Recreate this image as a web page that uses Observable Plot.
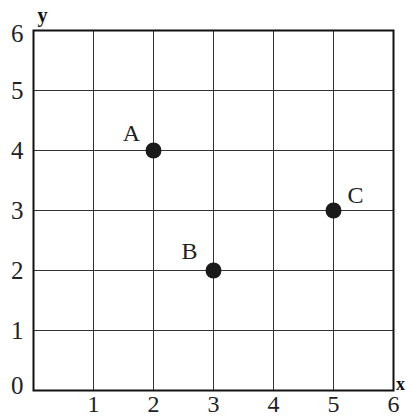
<!DOCTYPE html>
<html><head><meta charset="utf-8">
<script src="https://cdn.jsdelivr.net/npm/d3@7"></script>
<script src="https://cdn.jsdelivr.net/npm/@observablehq/plot@0.6"></script>
<style>
body{margin:0;background:#fff;}
svg{display:block;}
</style>
</head><body><div id="chart"></div>
<script>
const pointNames = ["A", "B", "C"];
const pointX = [2, 3, 5];
const pointY = [4, 2, 3];
const xTicks = [1, 2, 3, 4, 5, 6];
const yTicks = [0, 1, 2, 3, 4, 5, 6];
const gridTicks = [1, 2, 3, 4, 5];
const labelDx = [-22, -24, 22];
const labelDy = [-17, -19, -15];

const points = pointNames.map((n, i) => ({name: n, x: pointX[i], y: pointY[i], dx: labelDx[i], dy: labelDy[i]}));
const font = "'Liberation Serif', 'Times New Roman', serif";
const fmt = d3.format("d");

const chart = Plot.plot({
  width: 406,
  height: 417,
  marginLeft: 33,
  marginRight: 13,
  marginTop: 30,
  marginBottom: 27,
  style: {fontFamily: font, background: "#fff", color: "#111", fontSize: "24px"},
  x: {domain: [0, 6]},
  y: {domain: [0, 6]},
  marks: [
    Plot.gridX(gridTicks, {stroke: "#333", strokeOpacity: 1, strokeWidth: 1}),
    Plot.gridY(gridTicks, {stroke: "#333", strokeOpacity: 1, strokeWidth: 1}),
    Plot.frame({stroke: "#111", strokeWidth: 2}),
    Plot.axisX(xTicks, {tickSize: 0, tickPadding: 4, fontSize: 24, tickFormat: fmt, label: null, fill: "#222", fontFamily: font}),
    Plot.axisY(yTicks.slice(1, 6), {tickSize: 0, tickPadding: 10, fontSize: 25, tickFormat: fmt, label: null, fill: "#222", fontFamily: font}),
    Plot.axisY([6], {tickSize: 0, tickPadding: 10, fontSize: 25, tickFormat: fmt, label: null, fill: "#222", fontFamily: font, dy: 3}),
    Plot.axisY([0], {tickSize: 0, tickPadding: 10, fontSize: 25, tickFormat: fmt, label: null, fill: "#222", fontFamily: font, dy: -5}),
    Plot.text([{x: 6, y: 0}], {x: "x", y: "y", text: () => "x", dx: 7, dy: -6, fontSize: 18, fontWeight: "bold", fill: "#111", fontFamily: font}),
    Plot.text([{x: 0, y: 6}], {x: "x", y: "y", text: () => "y", dx: 9, dy: -15, fontSize: 20, fontWeight: "bold", fill: "#111", fontFamily: font}),
    Plot.dot(points, {x: "x", y: "y", r: 8, fill: "#1a1a1a", stroke: "none"}),
    ...points.map(p => Plot.text([p], {x: "x", y: "y", text: "name", dx: p.dx, dy: p.dy, fontSize: 24, fill: "#222", fontFamily: font}))
  ]
});
document.getElementById("chart").append(chart);
</script>
</body></html>
